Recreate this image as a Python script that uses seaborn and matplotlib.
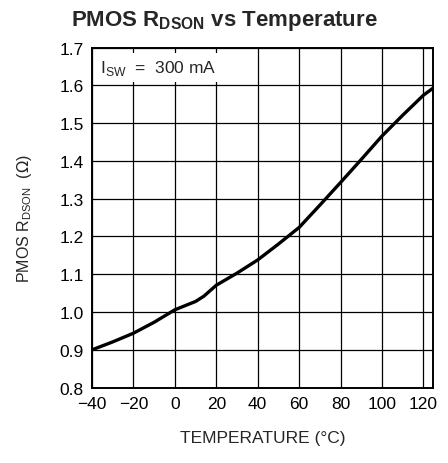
import pandas as pd
import numpy as np
import seaborn as sns
import matplotlib.pyplot as plt

# values
temps = [-40, -30, -20, -10, 0, 10, 14, 20, 30, 40, 50, 60, 70, 80, 90, 100, 110, 120, 124.5]
rdson = [0.900, 0.921, 0.944, 0.973, 1.006, 1.028, 1.042, 1.071, 1.103, 1.138,
         1.180, 1.224, 1.283, 1.343, 1.404, 1.466, 1.521, 1.574, 1.592]
xticks = [-40, -20, 0, 20, 40, 60, 80, 100, 120]
yticks = [0.8, 0.9, 1.0, 1.1, 1.2, 1.3, 1.4, 1.5, 1.6, 1.7]

df = pd.DataFrame({'Temperature': temps, 'RDSON': rdson})

sns.set_style("white")
plt.rcParams['font.family'] = ['Liberation Sans', 'DejaVu Sans']

fig = plt.figure(figsize=(4.48, 4.64), dpi=100)
ax = fig.add_axes([0.2054, 0.1625, 0.7606, 0.7328])

for x in xticks:
    ax.axvline(x, color='black', lw=0.9, zorder=1)
for y in yticks:
    ax.axhline(y, color='black', lw=0.9, zorder=1)

sns.lineplot(data=df, x='Temperature', y='RDSON', color='black', lw=2.4, ax=ax, zorder=3)

ax.set_xlim(-40, 124.5)
ax.set_ylim(0.8, 1.7)
ax.set_xticks(xticks)
ax.set_yticks(yticks)
ax.set_xticklabels([str(v).replace('-', '\u2212') for v in xticks])
ax.set_yticklabels([f'{v:.1f}' for v in yticks])
ax.tick_params(length=0, labelsize=12.5, pad=6, colors='black')
for s in ax.spines.values():
    s.set_color('black')
    s.set_linewidth(1.4)

ax.text(-36, 1.648, r'I$_{\mathregular{SW}}$  =  300 mA', fontsize=12.5, va='center', ha='left',
        zorder=4, bbox=dict(facecolor='white', edgecolor='none', pad=3.5))

ax.set_xlabel('TEMPERATURE (°C)', fontsize=12.5, labelpad=14)
ax.set_ylabel(r'PMOS R$_{\mathregular{DSON}}$  ($\Omega$)', fontsize=11.5, labelpad=18)
fig.suptitle(r'PMOS R$_{\mathregular{DSON}}$ vs Temperature', fontsize=16, fontweight='bold',
             x=0.5, y=0.955, va='center')

fig.savefig('out.png', dpi=100)
plt.close()
